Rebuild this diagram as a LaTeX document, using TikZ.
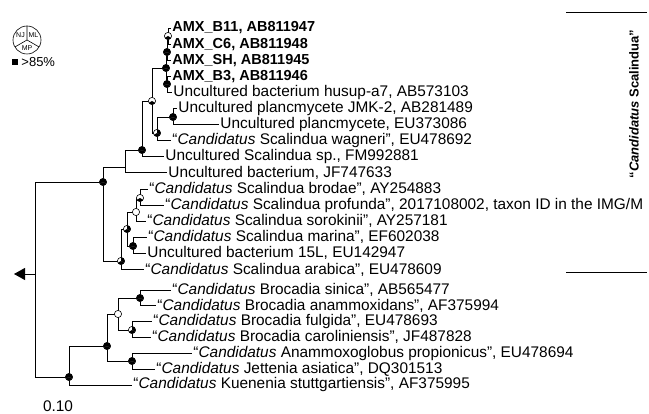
\documentclass[tikz,border=0pt]{standalone}
\usepackage{fontspec}
\setmainfont{Liberation Sans}
\usepackage{tikz}
\usetikzlibrary{arrows.meta}

% support mark: NJ, ML, MP sectors filled (1) or open (0)
\newcommand{\suppmark}[4]{%
  \fill[white] (#1) circle (3.6);
  \ifnum#2=1 \fill (#1) -- ++(-90:3.6) arc[start angle=-90,end angle=-210,radius=3.6] -- cycle;\fi
  \ifnum#3=1 \fill (#1) -- ++(-90:3.6) arc[start angle=-90,end angle=30,radius=3.6] -- cycle;\fi
  \ifnum#4=1 \fill (#1) -- ++(-210:3.6) arc[start angle=-210,end angle=-330,radius=3.6] -- cycle;\fi
  \draw[line width=0.6pt] (#1) circle (3.6);}

\begin{document}
\begin{tikzpicture}[x=1pt,y=-1pt,line width=0.9pt,
  every node/.style={font=\fontsize{15.4}{17}\selectfont},
  leaf/.style={anchor=west,inner sep=0pt,inner xsep=1pt},
  amx/.style={leaf,font=\fontsize{14.5}{17}\selectfont\bfseries}]
  \useasboundingbox (0,0) rectangle (649,414);
  % legend
  \coordinate (lg) at (27,40);
  \draw[line width=0.6pt] (lg) circle (14);
  \draw[line width=0.6pt] (lg) -- ++(-90:14) (lg) -- ++(-210:14) (lg) -- ++(-330:14);
  \node[font=\fontsize{7}{8}\selectfont] (nj) at (20.5,35) {NJ};
  \node[font=\fontsize{7}{8}\selectfont] (ml) at (33.5,35) {ML};
  \node[font=\fontsize{7}{8}\selectfont] (mp) at (27,48.5) {MP};
  \fill (12,59) rectangle (18,65);
  \node[anchor=west,inner sep=0pt,font=\fontsize{13}{15}\selectfont] (pct) at (21,62) {>85\%};
  % root
  \coordinate (root) at (35,274);
  \coordinate (tip) at (14,274);
  \coordinate (sc) at (103,182);
  \coordinate (br) at (69,377);
  % Scalindua, upper part
  \coordinate (a1) at (168,36);
  \coordinate (a2) at (167,52);
  \coordinate (a3) at (166,68);
  \coordinate (a4) at (167,84);
  \coordinate (b1) at (152,101);
  \coordinate (b2) at (157,133);
  \coordinate (b3) at (173,117);
  \coordinate (c1) at (142,150);
  \coordinate (d1) at (125,167);
  % Scalindua, lower part
  \coordinate (e1) at (121,261);
  \coordinate (e2) at (127,229);
  \coordinate (e3) at (136,212);
  \coordinate (e4) at (140,198);
  \coordinate (e5) at (133,246);
  % Brocadiaceae
  \coordinate (f1) at (107,346);
  \coordinate (f2) at (118,314);
  \coordinate (f3) at (140,298);
  \coordinate (f4) at (132,330);
  \coordinate (f5) at (132,361);
  % leaves
  \node[amx] (l0) at (171,28) {AMX\_B11, AB811947};
  \node[amx] (l1) at (171,44.1) {AMX\_C6, AB811948};
  \node[amx] (l2) at (171,60.2) {AMX\_SH, AB811945};
  \node[amx] (l3) at (171,76.3) {AMX\_B3, AB811946};
  \node[leaf] (l4) at (172,92.4) {Uncultured bacterium husup-a7, AB573103};
  \node[leaf] (l5) at (177,108.5) {Uncultured plancmycete JMK-2, AB281489};
  \node[leaf] (l6) at (219,124.6) {Uncultured plancmycete, EU373086};
  \node[leaf] (l7) at (171,140.7) {“\textit{Candidatus} Scalindua wagneri”, EU478692};
  \node[leaf] (l8) at (164,156.8) {Uncultured Scalindua sp., FM992881};
  \node[leaf] (l9) at (167,172.9) {Uncultured bacterium, JF747633};
  \node[leaf] (l10) at (148,189) {“\textit{Candidatus} Scalindua brodae”, AY254883};
  \node[leaf] (l11) at (164,205.1) {“\textit{Candidatus} Scalindua profunda”, 2017108002, taxon ID in the IMG/M};
  \node[leaf] (l12) at (146,221.2) {“\textit{Candidatus} Scalindua sorokinii”, AY257181};
  \node[leaf] (l13) at (147,237.3) {“\textit{Candidatus} Scalindua marina”, EF602038};
  \node[leaf] (l14) at (146,253.4) {Uncultured bacterium 15L, EU142947};
  \node[leaf] (l15) at (144,269.5) {“\textit{Candidatus} Scalindua arabica”, EU478609};
  \node[leaf] (l16) at (171,290) {“\textit{Candidatus} Brocadia sinica”, AB565477};
  \node[leaf] (l17) at (156,305.8) {“\textit{Candidatus} Brocadia anammoxidans”, AF375994};
  \node[leaf] (l18) at (152,321.6) {“\textit{Candidatus} Brocadia fulgida”, EU478693};
  \node[leaf] (l19) at (151,337.4) {“\textit{Candidatus} Brocadia caroliniensis”, JF487828};
  \node[leaf] (l20) at (192,353.2) {“\textit{Candidatus} Anammoxoglobus propionicus”, EU478694};
  \node[leaf] (l21) at (155,369) {“\textit{Candidatus} Jettenia asiatica”, DQ301513};
  \node[leaf] (l22) at (132,385) {“\textit{Candidatus} Kuenenia stuttgartiensis”, AF375995};
  % branches
  \draw[-{Triangle[length=11pt,width=12pt]}] (root) -- (tip);
  \foreach \p/\c in {root/sc,root/br,sc/d1,sc/e1,d1/c1,d1/l9.west,c1/b1,c1/l8.west,
      b1/a3,b1/b2,a3/a2,a3/a4,a2/a1,a2/l2.west,a1/l0.west,a1/l1.west,a4/l3.west,a4/l4.west,
      b2/b3,b2/l7.west,b3/l5.west,b3/l6.west,e1/e2,e1/l15.west,e2/e3,e2/e5,e3/e4,e3/l12.west,
      e4/l10.west,e4/l11.west,e5/l13.west,e5/l14.west,br/f1,br/l22.west,f1/f2,f1/f5,
      f2/f3,f2/f4,f3/l16.west,f3/l17.west,f4/l18.west,f4/l19.west,f5/l20.west,f5/l21.west}
    \draw (\p) |- (\c);
  % support marks
  \foreach \n/\nj/\ml/\mp in {sc/1/1/1,br/1/1/1,a1/0/0/1,a2/1/1/1,a3/1/1/1,a4/1/1/1,
      b1/0/0/1,b2/0/1/1,b3/1/1/1,c1/1/1/1,e1/0/1/1,e2/0/1/1,e3/0/0/0,e4/0/0/1,e5/1/1/1,
      f1/1/1/1,f2/0/0/0,f3/1/1/1,f4/0/1/1,f5/1/1/1}
    \suppmark{\n}{\nj}{\ml}{\mp};
  % clade bracket
  \coordinate (bt) at (566,12);
  \coordinate (bb) at (566,272);
  \draw (bt) -- ++(81,0);
  \draw (bb) -- ++(81,0);
  \node[rotate=90,font=\fontsize{13}{15}\selectfont\bfseries] (clade) at (634,104) {“\textit{Candidatus} Scalindua”};
  % scale
  \node (scale) at (58,406) {0.10};
\end{tikzpicture}
\end{document}
